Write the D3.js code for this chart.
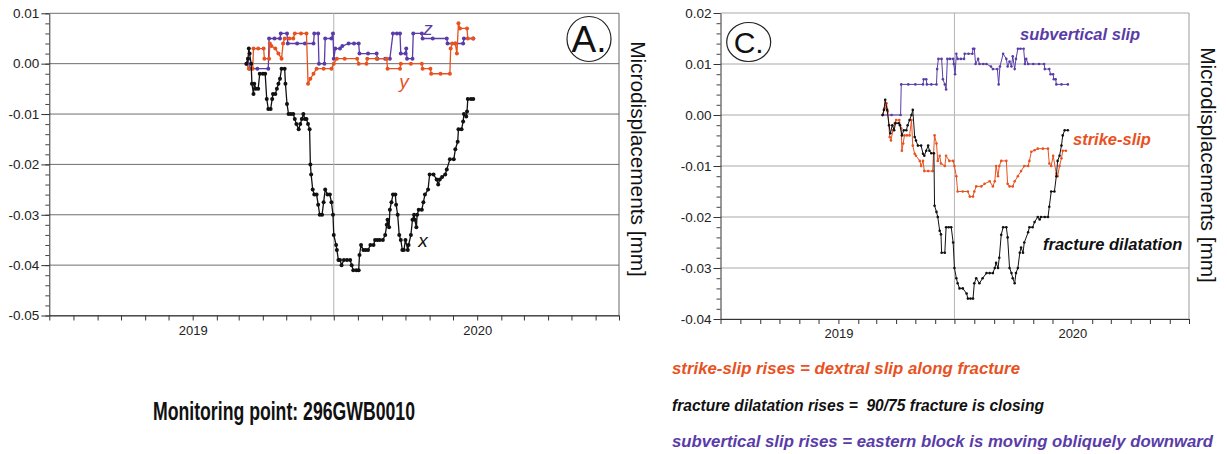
<!DOCTYPE html>
<html>
<head>
<meta charset="utf-8">
<script src="https://cdn.jsdelivr.net/npm/d3@7"></script>
<style>
  html, body { margin: 0; padding: 0; background: #ffffff; }
  svg { display: block; font-family: "Liberation Sans", Arial, Helvetica, sans-serif; }
  .keep { white-space: pre; }
</style>
</head>
<body>
<svg id="fig" width="1227" height="454"></svg>
<script>
// ---------------------------------------------------------------
// Monitoring point 296GWB0010 – microdisplacements 2019
// ---------------------------------------------------------------
const timeSpan = ["2018-07-01", "2020-07-01"];
const midYear = "2019-07-01";

const ticksA = [0.01, 0.00, -0.01, -0.02, -0.03, -0.04, -0.05];
const ticksC = [0.02, 0.01, 0.00, -0.01, -0.02, -0.03, -0.04];

// Panel A – x component (black)
const seriesAx = [
  ["2019-03-11",0.000],["2019-03-13",0.001],["2019-03-14",0.003],["2019-03-15",0.002],["2019-03-17",0.000],
  ["2019-03-18",-0.004],["2019-03-20",-0.006],["2019-03-21",-0.004],["2019-03-23",-0.005],["2019-03-26",-0.005],
  ["2019-03-28",-0.002],["2019-04-01",-0.002],["2019-04-04",-0.002],["2019-04-06",-0.007],["2019-04-08",-0.009],
  ["2019-04-11",-0.009],["2019-04-13",-0.007],["2019-04-14",-0.006],["2019-04-17",-0.006],["2019-04-19",-0.005],
  ["2019-04-21",-0.004],["2019-04-23",-0.003],["2019-04-25",-0.001],["2019-04-29",-0.001],["2019-04-30",-0.004],
  ["2019-05-02",-0.008],["2019-05-04",-0.010],["2019-05-07",-0.010],["2019-05-10",-0.010],["2019-05-12",-0.011],
  ["2019-05-14",-0.012],["2019-05-17",-0.013],["2019-05-19",-0.012],["2019-05-21",-0.011],["2019-05-23",-0.010],
  ["2019-05-25",-0.011],["2019-05-27",-0.011],["2019-05-29",-0.012],["2019-05-31",-0.013],["2019-06-01",-0.020],
  ["2019-06-02",-0.022],["2019-06-04",-0.025],["2019-06-06",-0.026],["2019-06-09",-0.026],["2019-06-11",-0.028],
  ["2019-06-13",-0.030],["2019-06-16",-0.030],["2019-06-18",-0.0275],["2019-06-20",-0.025],["2019-06-23",-0.026],
  ["2019-06-26",-0.026],["2019-06-28",-0.0275],["2019-06-30",-0.030],["2019-07-01",-0.034],["2019-07-04",-0.036],
  ["2019-07-05",-0.037],["2019-07-07",-0.039],["2019-07-09",-0.039],["2019-07-11",-0.040],["2019-07-14",-0.039],
  ["2019-07-18",-0.039],["2019-07-22",-0.039],["2019-07-24",-0.040],["2019-07-26",-0.041],["2019-07-30",-0.041],
  ["2019-08-02",-0.041],["2019-08-03",-0.038],["2019-08-05",-0.036],["2019-08-08",-0.037],["2019-08-11",-0.037],
  ["2019-08-14",-0.037],["2019-08-17",-0.036],["2019-08-21",-0.036],["2019-08-23",-0.035],["2019-08-26",-0.035],
  ["2019-08-29",-0.035],["2019-09-02",-0.035],["2019-09-05",-0.034],["2019-09-07",-0.032],["2019-09-08",-0.031],
  ["2019-09-10",-0.0325],["2019-09-11",-0.029],["2019-09-13",-0.0275],["2019-09-15",-0.026],["2019-09-18",-0.026],
  ["2019-09-19",-0.028],["2019-09-21",-0.030],["2019-09-23",-0.034],["2019-09-25",-0.035],["2019-09-27",-0.037],
  ["2019-09-29",-0.037],["2019-10-01",-0.035],["2019-10-04",-0.037],["2019-10-05",-0.036],["2019-10-08",-0.034],
  ["2019-10-10",-0.031],["2019-10-12",-0.030],["2019-10-13",-0.031],["2019-10-15",-0.0325],["2019-10-16",-0.030],
  ["2019-10-18",-0.029],["2019-10-22",-0.029],["2019-10-24",-0.0275],["2019-10-26",-0.026],["2019-10-30",-0.025],
  ["2019-11-01",-0.022],["2019-11-06",-0.022],["2019-11-10",-0.023],["2019-11-12",-0.024],["2019-11-14",-0.023],
  ["2019-11-17",-0.0225],["2019-11-21",-0.022],["2019-11-23",-0.021],["2019-11-27",-0.019],["2019-12-02",-0.019],
  ["2019-12-04",-0.017],["2019-12-07",-0.0155],["2019-12-08",-0.013],["2019-12-12",-0.013],["2019-12-14",-0.0115],
  ["2019-12-15",-0.010],["2019-12-18",-0.0105],["2019-12-19",-0.0095],["2019-12-20",-0.007],["2019-12-24",-0.007],
  ["2019-12-27",-0.007]
];

// Panel A – y component (orange)
const seriesAy = [
  ["2019-03-11",0.000],["2019-03-14",-0.001],["2019-03-19",-0.001],["2019-03-20",0.003],["2019-03-26",0.003],
  ["2019-04-02",0.003],["2019-04-03",0.001],["2019-04-09",0.001],["2019-04-10",0.004],["2019-04-12",0.0035],
  ["2019-04-17",0.003],["2019-04-21",0.002],["2019-04-25",0.001],["2019-04-27",0.004],["2019-04-29",0.005],
  ["2019-05-05",0.005],["2019-05-10",0.005],["2019-05-12",0.006],["2019-05-20",0.006],["2019-05-27",0.006],
  ["2019-05-29",-0.004],["2019-06-01",-0.003],["2019-06-05",-0.002],["2019-06-09",-0.001],["2019-06-18",-0.001],
  ["2019-06-28",-0.001],["2019-07-01",0.000],["2019-07-05",0.001],["2019-07-15",0.001],["2019-07-31",0.001],
  ["2019-08-02",0.000],["2019-08-12",0.000],["2019-08-13",0.001],["2019-08-25",0.001],["2019-09-07",0.001],
  ["2019-09-08",-0.001],["2019-09-24",-0.001],["2019-09-25",0.000],["2019-10-08",0.000],["2019-10-22",0.000],
  ["2019-10-23",-0.001],["2019-11-02",-0.001],["2019-11-03",-0.002],["2019-11-15",-0.002],["2019-11-27",-0.002],
  ["2019-11-28",0.003],["2019-11-30",0.004],["2019-12-04",0.004],["2019-12-06",0.002],["2019-12-08",0.008],
  ["2019-12-10",0.007],["2019-12-19",0.007],["2019-12-20",0.005],["2019-12-27",0.005]
];

// Panel A – z component (purple)
const seriesAz = [
  ["2019-03-11",0.000],["2019-03-13",0.001],["2019-03-15",-0.001],["2019-03-25",-0.001],["2019-04-08",-0.001],
  ["2019-04-09",0.005],["2019-04-16",0.005],["2019-04-23",0.005],["2019-04-24",0.006],["2019-05-02",0.006],
  ["2019-05-03",0.004],["2019-05-15",0.004],["2019-05-25",0.004],["2019-06-05",0.004],["2019-06-06",0.006],
  ["2019-06-11",0.006],["2019-06-12",0.000],["2019-06-19",0.000],["2019-06-20",0.005],["2019-06-28",0.005],
  ["2019-06-30",0.006],["2019-07-01",0.001],["2019-07-03",0.003],["2019-07-09",0.003],["2019-07-12",0.0035],
  ["2019-07-20",0.004],["2019-07-27",0.004],["2019-08-02",0.004],["2019-08-03",0.002],["2019-08-14",0.002],
  ["2019-08-25",0.002],["2019-08-26",0.001],["2019-09-05",0.001],["2019-09-11",0.001],["2019-09-15",0.006],
  ["2019-09-20",0.006],["2019-09-24",0.006],["2019-09-25",0.002],["2019-10-01",0.002],["2019-10-02",0.003],
  ["2019-10-03",0.001],["2019-10-10",0.001],["2019-10-11",0.006],["2019-10-22",0.006],["2019-10-23",0.005],
  ["2019-11-05",0.005],["2019-11-23",0.005],["2019-11-24",0.004],["2019-12-04",0.004],["2019-12-14",0.004],
  ["2019-12-15",0.005],["2019-12-27",0.005]
];

// Panel C – subvertical slip (purple)
const seriesCslip = [
  ["2019-03-11",0.000],["2019-03-25",0.000],["2019-04-08",0.000],["2019-04-09",0.006],["2019-04-20",0.006],
  ["2019-05-01",0.006],["2019-05-13",0.006],["2019-05-14",0.007],["2019-05-18",0.007],["2019-05-19",0.006],
  ["2019-05-26",0.006],["2019-06-03",0.006],["2019-06-04",0.009],["2019-06-06",0.011],["2019-06-11",0.011],
  ["2019-06-13",0.007],["2019-06-16",0.006],["2019-06-18",0.005],["2019-06-20",0.011],["2019-06-24",0.011],
  ["2019-06-29",0.011],["2019-06-30",0.010],["2019-07-02",0.008],["2019-07-04",0.012],["2019-07-06",0.011],
  ["2019-07-11",0.011],["2019-07-16",0.011],["2019-07-17",0.012],["2019-07-23",0.012],["2019-07-29",0.012],
  ["2019-07-30",0.013],["2019-08-01",0.013],["2019-08-03",0.010],["2019-08-07",0.011],["2019-08-09",0.010],
  ["2019-08-15",0.010],["2019-08-20",0.010],["2019-08-27",0.0095],["2019-08-30",0.009],["2019-09-06",0.009],
  ["2019-09-08",0.006],["2019-09-10",0.0095],["2019-09-15",0.012],["2019-09-20",0.011],["2019-09-22",0.0095],
  ["2019-09-25",0.0105],["2019-09-28",0.0095],["2019-09-30",0.0115],["2019-10-03",0.009],["2019-10-05",0.011],
  ["2019-10-08",0.013],["2019-10-12",0.013],["2019-10-17",0.013],["2019-10-19",0.010],["2019-10-21",0.011],
  ["2019-10-24",0.010],["2019-11-01",0.010],["2019-11-10",0.010],["2019-11-18",0.010],["2019-11-19",0.009],
  ["2019-11-26",0.009],["2019-11-28",0.008],["2019-12-02",0.008],["2019-12-03",0.007],["2019-12-06",0.007],
  ["2019-12-07",0.006],["2019-12-15",0.006],["2019-12-25",0.006]
];

// Panel C – strike-slip (orange)
const seriesCstrike = [
  ["2019-03-11",0.000],["2019-03-14",0.0013],["2019-03-17",0.0023],["2019-03-19",0.0007],["2019-03-22",-0.0043],
  ["2019-03-24",-0.005],["2019-03-27",-0.003],["2019-03-30",-0.0016],["2019-04-01",-0.001],["2019-04-06",-0.001],
  ["2019-04-09",-0.0026],["2019-04-10",-0.007],["2019-04-12",-0.0056],["2019-04-14",-0.004],["2019-04-18",-0.004],
  ["2019-04-22",-0.004],["2019-04-25",-0.001],["2019-04-27",-0.006],["2019-04-30",-0.0076],["2019-05-02",-0.008],
  ["2019-05-08",-0.009],["2019-05-10",-0.010],["2019-05-13",-0.009],["2019-05-15",-0.011],["2019-05-21",-0.011],
  ["2019-05-28",-0.011],["2019-05-31",-0.004],["2019-06-03",-0.0056],["2019-06-05",-0.009],["2019-06-08",-0.008],
  ["2019-06-10",-0.0095],["2019-06-16",-0.010],["2019-06-18",-0.008],["2019-06-23",-0.009],["2019-06-29",-0.009],
  ["2019-07-01",-0.010],["2019-07-04",-0.012],["2019-07-06",-0.015],["2019-07-14",-0.015],["2019-07-22",-0.015],
  ["2019-07-25",-0.016],["2019-07-30",-0.016],["2019-08-01",-0.015],["2019-08-04",-0.014],["2019-08-12",-0.014],
  ["2019-08-17",-0.0135],["2019-08-25",-0.013],["2019-08-30",-0.014],["2019-09-02",-0.013],["2019-09-04",-0.010],
  ["2019-09-07",-0.012],["2019-09-09",-0.010],["2019-09-12",-0.009],["2019-09-20",-0.009],["2019-09-22",-0.0135],
  ["2019-09-25",-0.014],["2019-09-30",-0.014],["2019-10-03",-0.013],["2019-10-08",-0.012],["2019-10-13",-0.011],
  ["2019-10-18",-0.010],["2019-10-24",-0.010],["2019-10-26",-0.009],["2019-10-29",-0.0072],["2019-11-03",-0.0069],
  ["2019-11-08",-0.0066],["2019-11-16",-0.0066],["2019-11-24",-0.0066],["2019-11-26",-0.0095],["2019-11-29",-0.010],
  ["2019-12-02",-0.008],["2019-12-07",-0.0115],["2019-12-09",-0.012],["2019-12-12",-0.010],["2019-12-15",-0.0085],
  ["2019-12-17",-0.007],["2019-12-22",-0.007]
];

// Panel C – fracture dilatation (black)
const seriesCdil = [
  ["2019-03-11",0.000],["2019-03-13",0.001],["2019-03-15",0.003],["2019-03-18",0.001],["2019-03-21",-0.002],
  ["2019-03-23",-0.0036],["2019-03-26",-0.002],["2019-03-29",-0.003],["2019-03-31",-0.0016],["2019-04-05",-0.0016],
  ["2019-04-07",-0.002],["2019-04-10",-0.004],["2019-04-13",-0.003],["2019-04-17",-0.003],["2019-04-19",-0.002],
  ["2019-04-22",-0.001],["2019-04-25",0.000],["2019-04-27",0.001],["2019-04-30",-0.0043],["2019-05-02",-0.005],
  ["2019-05-05",-0.006],["2019-05-10",-0.006],["2019-05-13",-0.0076],["2019-05-15",-0.008],["2019-05-18",-0.007],
  ["2019-05-21",-0.006],["2019-05-23",-0.007],["2019-05-26",-0.0075],["2019-05-30",-0.0075],["2019-05-31",-0.0178],
  ["2019-06-03",-0.019],["2019-06-05",-0.020],["2019-06-08",-0.0227],["2019-06-10",-0.0234],["2019-06-11",-0.027],
  ["2019-06-16",-0.027],["2019-06-18",-0.022],["2019-06-22",-0.022],["2019-06-26",-0.022],["2019-06-29",-0.025],
  ["2019-07-01",-0.030],["2019-07-04",-0.032],["2019-07-06",-0.033],["2019-07-09",-0.034],["2019-07-14",-0.034],
  ["2019-07-20",-0.035],["2019-07-22",-0.036],["2019-07-26",-0.036],["2019-07-30",-0.036],["2019-08-01",-0.033],
  ["2019-08-04",-0.032],["2019-08-09",-0.033],["2019-08-14",-0.032],["2019-08-20",-0.031],["2019-08-25",-0.031],
  ["2019-08-30",-0.031],["2019-09-02",-0.030],["2019-09-04",-0.029],["2019-09-07",-0.030],["2019-09-09",-0.028],
  ["2019-09-12",-0.0235],["2019-09-15",-0.022],["2019-09-20",-0.022],["2019-09-22",-0.024],["2019-09-25",-0.030],
  ["2019-09-28",-0.031],["2019-09-30",-0.032],["2019-10-03",-0.033],["2019-10-05",-0.031],["2019-10-08",-0.030],
  ["2019-10-11",-0.027],["2019-10-13",-0.026],["2019-10-16",-0.027],["2019-10-18",-0.025],["2019-10-24",-0.023],
  ["2019-10-26",-0.022],["2019-10-31",-0.022],["2019-11-03",-0.021],["2019-11-08",-0.020],["2019-11-11",-0.0205],
  ["2019-11-13",-0.020],["2019-11-19",-0.020],["2019-11-24",-0.020],["2019-11-26",-0.018],["2019-11-29",-0.015],
  ["2019-12-04",-0.015],["2019-12-07",-0.012],["2019-12-09",-0.009],["2019-12-12",-0.008],["2019-12-15",-0.006],
  ["2019-12-17",-0.004],["2019-12-20",-0.003],["2019-12-25",-0.003]
];

// ---------------------------------------------------------------
const ORANGE = "#e8521f";
const PURPLE = "#5a3ca8";
const BLACK = "#111111";

const parse = d3.timeParse("%Y-%m-%d");
const svg = d3.select("#fig");
const fmt = d => d.toFixed(2);

function drawPanel(cfg) {
  const g = svg.append("g");
  const x = d3.scaleTime().domain(timeSpan.map(parse)).range([cfg.left, cfg.right]);
  const y = d3.scaleLinear().domain([cfg.ticks[cfg.ticks.length - 1], cfg.ticks[0]]).range([cfg.bottom, cfg.top]);

  // horizontal grid lines at the labelled values
  g.append("g").selectAll("line").data(cfg.ticks).join("line")
    .attr("x1", cfg.left).attr("x2", cfg.right)
    .attr("y1", d => y(d)).attr("y2", d => y(d))
    .attr("stroke", cfg.gridColor).attr("stroke-width", 1);

  // mid-year reference line and right frame
  g.append("line")
    .attr("x1", x(parse(midYear))).attr("x2", x(parse(midYear)))
    .attr("y1", cfg.top).attr("y2", cfg.bottom)
    .attr("stroke", "#b4b4b4").attr("stroke-width", 1);
  g.append("line")
    .attr("x1", cfg.right).attr("x2", cfg.right)
    .attr("y1", cfg.top).attr("y2", cfg.bottom)
    .attr("stroke", cfg.frameColor).attr("stroke-width", 1);

  // minor ticks on the value axis
  const yMinor = d3.range(Math.round(cfg.ticks[cfg.ticks.length - 1] * 1000), Math.round(cfg.ticks[0] * 1000) + 1, 2).map(v => v / 1000);
  g.append("g").attr("transform", `translate(${cfg.left},0)`)
    .call(d3.axisLeft(y).tickValues(yMinor).tickSize(4).tickSizeOuter(0).tickFormat(""))
    .call(a => a.select(".domain").remove())
    .call(a => a.selectAll("line").attr("stroke", "#444"));

  // major value axis
  g.append("g").attr("transform", `translate(${cfg.left},0)`)
    .call(d3.axisLeft(y).tickValues(cfg.ticks).tickSize(cfg.majorTick).tickSizeOuter(0).tickPadding(2).tickFormat(fmt))
    .call(a => a.select(".domain").attr("stroke", "#333"))
    .call(a => a.selectAll("line").attr("stroke", "#333"))
    .call(a => a.selectAll("text").attr("font-size", 13.5).attr("fill", "#222")
      .attr("font-family", "'Liberation Sans', Arial, sans-serif"));

  // time axis: a tick every month, year at January
  g.append("g").attr("transform", `translate(0,${cfg.bottom})`)
    .call(d3.axisBottom(x).ticks(d3.timeMonth.every(1)).tickSize(5).tickSizeOuter(0).tickPadding(5)
      .tickFormat(d => d.getMonth() === 0 ? d3.timeFormat("%Y")(d) : ""))
    .call(a => a.select(".domain").attr("stroke", "#333"))
    .call(a => a.selectAll("line").attr("stroke", "#333"))
    .call(a => a.selectAll("text").attr("font-size", 13).attr("fill", "#222")
      .attr("font-family", "'Liberation Sans', Arial, sans-serif"));

  // data series
  const line = d3.line().x(d => x(parse(d[0]))).y(d => y(d[1]));
  cfg.series.forEach(s => {
    g.append("path").datum(s.data)
      .attr("fill", "none").attr("stroke", s.color)
      .attr("stroke-width", cfg.lineWidth).attr("stroke-linejoin", "round")
      .attr("d", line);
    g.append("g").selectAll("circle").data(s.data).join("circle")
      .attr("cx", d => x(parse(d[0]))).attr("cy", d => y(d[1]))
      .attr("r", cfg.dot).attr("fill", s.color);
  });

  // vertical axis title on the right
  g.append("text")
    .attr("transform", `translate(${cfg.titleX},${cfg.titleY}) rotate(90)`)
    .attr("text-anchor", "middle")
    .attr("font-size", 20.8).attr("fill", "#111")
    .text("Microdisplacements [mm]");

  // panel badge
  g.append("ellipse")
    .attr("cx", cfg.badge.cx).attr("cy", cfg.badge.cy)
    .attr("rx", cfg.badge.rx).attr("ry", cfg.badge.ry)
    .attr("fill", "none").attr("stroke", "#222").attr("stroke-width", 1.2);
  g.append("text")
    .attr("x", cfg.badge.cx).attr("y", cfg.badge.cy + cfg.badge.size * 0.36)
    .attr("text-anchor", "middle").attr("font-size", cfg.badge.size).attr("fill", "#111")
    .text(cfg.badge.label);

  return { g, x, y };
}

// ---- Panel A ----
const A = drawPanel({
  left: 49.3, right: 619, top: 13.3, bottom: 315.5,
  ticks: ticksA, majorTick: 8, gridColor: "#6e6e6e", frameColor: "#666",
  lineWidth: 1.3, dot: 2.0,
  series: [
    { data: seriesAz, color: PURPLE },
    { data: seriesAy, color: ORANGE },
    { data: seriesAx, color: BLACK }
  ],
  titleX: 630.5, titleY: 159,
  badge: { cx: 589, cy: 39, rx: 22, ry: 22.5, size: 37, label: "A." }
});

A.g.append("text").attr("x", 428).attr("y", 35).attr("text-anchor", "middle")
  .attr("font-size", 19).attr("font-style", "italic").attr("fill", PURPLE).text("z");
A.g.append("text").attr("x", 404).attr("y", 88).attr("text-anchor", "middle")
  .attr("font-size", 19).attr("font-style", "italic").attr("fill", ORANGE).text("y");
A.g.append("text").attr("x", 423).attr("y", 247).attr("text-anchor", "middle")
  .attr("font-size", 19).attr("font-style", "italic").attr("fill", BLACK).text("x");

// ---- Panel C ----
const C = drawPanel({
  left: 720.5, right: 1189, top: 13, bottom: 319,
  ticks: ticksC, majorTick: 7, gridColor: "#a9a9a9", frameColor: "#999",
  lineWidth: 1.0, dot: 1.3,
  series: [
    { data: seriesCslip, color: PURPLE },
    { data: seriesCstrike, color: ORANGE },
    { data: seriesCdil, color: BLACK }
  ],
  titleX: 1201, titleY: 165,
  badge: { cx: 748.7, cy: 42, rx: 22, ry: 19.5, size: 30, label: "C." }
});

const bi = sel => sel.attr("font-weight", "bold").attr("font-style", "italic").attr("font-size", 16.5);
C.g.append("text").attr("x", 1020).attr("y", 40).call(bi).attr("fill", PURPLE).text("subvertical slip");
C.g.append("text").attr("x", 1073).attr("y", 145).call(bi).attr("fill", ORANGE).text("strike-slip");
C.g.append("text").attr("x", 1043).attr("y", 250).call(bi).attr("fill", BLACK).text("fracture dilatation");

// ---- captions ----
svg.append("text").attr("x", 153).attr("y", 420)
  .attr("font-weight", "bold").attr("font-size", 25).attr("fill", "#111")
  .attr("textLength", 262).attr("lengthAdjust", "spacingAndGlyphs")
  .text("Monitoring point: 296GWB0010");

const notes = [
  { text: "strike-slip rises = dextral slip along fracture", color: ORANGE, y: 374, w: 348 },
  { text: "fracture dilatation rises =  90/75 fracture is closing", color: BLACK, y: 411, w: 372 },
  { text: "subvertical slip rises = eastern block is moving obliquely downward", color: PURPLE, y: 447, w: 541 }
];
svg.append("g").selectAll("text").data(notes).join("text")
  .attr("class", "keep")
  .attr("x", 672).attr("y", d => d.y)
  .attr("font-weight", "bold").attr("font-style", "italic").attr("font-size", 17)
  .attr("fill", d => d.color)
  .attr("textLength", d => d.w).attr("lengthAdjust", "spacingAndGlyphs")
  .text(d => d.text);
</script>
</body>
</html>
